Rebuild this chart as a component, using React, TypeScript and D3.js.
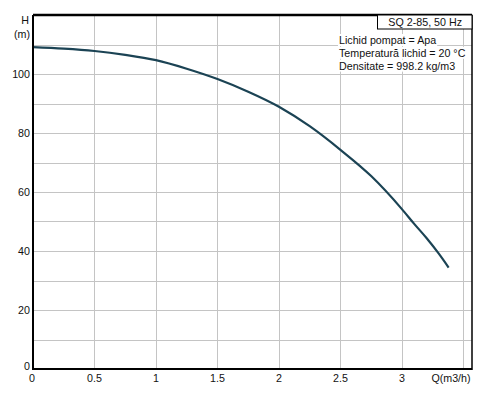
import React, { useEffect, useRef } from 'react';
import * as d3 from 'd3';

// pump curve
const flow = [0, 0.25, 0.5, 0.75, 1, 1.25, 1.5, 1.75, 2, 2.25, 2.5, 2.75, 3, 3.1, 3.2, 3.3, 3.38];
const head = [109.1, 108.6, 107.8, 106.5, 104.7, 101.8, 98.3, 94.0, 88.9, 82.3, 74.3, 65.4, 54.2, 49.2, 44.4, 39.1, 34.4];
const xTicks = [0, 0.5, 1, 1.5, 2, 2.5, 3];
const yTicks = [0, 20, 40, 60, 80, 100];
const infoLines = ['Lichid pompat = Apa', 'Temperatură lichid = 20 °C', 'Densitate = 998.2 kg/m3'];
const title = 'SQ 2-85, 50 Hz';

const W = 494;
const H = 396;
const margin = { top: 15, right: 22, bottom: 27, left: 33 };
const FONT = 'Liberation Sans, Arial, sans-serif';

const drawChart = (node: SVGSVGElement) => {
	const svg = d3.select(node);
	svg.selectAll('*').remove();
	const x = d3.scaleLinear().domain([0, 3.57]).range([margin.left, W - margin.right]);
	const y = d3.scaleLinear().domain([0, 120]).range([H - margin.bottom, margin.top]);
	const grid = svg.append('g').attr('stroke', '#c4c4c4').attr('stroke-width', 1);

	grid.selectAll('line.v').data(d3.range(0.5, 3.51, 0.5))
		.enter()
		.append('line')
		.attr('x1', (d) => Math.round(x(d)) + 0.5)
		.attr('x2', (d) => Math.round(x(d)) + 0.5)
		.attr('y1', y(0))
		.attr('y2', y(120));
	grid.selectAll('line.h').data(d3.range(10, 111, 10))
		.enter()
		.append('line')
		.attr('x1', x(0))
		.attr('x2', x(3.57))
		.attr('y1', (d) => Math.round(y(d)) + 0.5)
		.attr('y2', (d) => Math.round(y(d)) + 0.5);

	const pts = flow.map((q, i) => [q, head[i]] as [number, number]);
	svg.append('path').datum(pts)
		.attr('fill', 'none')
		.attr('stroke', '#1b4354')
		.attr('stroke-width', 2.2)
		.attr('d', d3.line<[number, number]>()
			.x((d) => x(d[0]))
			.y((d) => y(d[1]))
			.curve(d3.curveMonotoneX));

	const text = svg.append('g').attr('font-family', FONT).attr('font-size', 10.7).attr('fill', '#111');

	// info lines sit on white, hiding the grid behind them
	const info = text.selectAll('g.info').data(infoLines)
		.enter()
		.append('g');
	info.append('text')
		.attr('x', 339)
		.attr('y', (_d, i) => 44 + i * 12.8)
		.text((d) => d)
		.each(function () {
			const el = this as SVGTextElement;
			const b = el.getBBox();
			d3.select(el.parentNode as SVGGElement).insert('rect', 'text')
				.attr('x', b.x - 1).attr('y', b.y)
				.attr('width', b.width + 2).attr('height', b.height)
				.attr('fill', '#fff');
		});

	// frame
	const frame = svg.append('g').attr('stroke', '#000').attr('fill', 'none');
	frame.append('line').attr('x1', x(0)).attr('x2', x(3.57))
		.attr('y1', y(120)).attr('y2', y(120)).attr('stroke-width', 2.5);
	frame.append('line').attr('x1', x(0)).attr('x2', x(0))
		.attr('y1', y(120)).attr('y2', y(0) + 1).attr('stroke-width', 2);
	frame.append('line').attr('x1', x(0)).attr('x2', x(3.57))
		.attr('y1', y(0)).attr('y2', y(0)).attr('stroke-width', 2);
	frame.append('line').attr('x1', x(3.57)).attr('x2', x(3.57))
		.attr('y1', y(120)).attr('y2', y(0) + 1).attr('stroke-width', 1.5);
	frame.append('rect').attr('x', 377.5).attr('y', y(120))
		.attr('width', x(3.57) - 377.5).attr('height', 29 - y(120))
		.attr('fill', '#fff')
		.attr('stroke-width', 1);

	const labels = svg.append('g').attr('font-family', FONT).attr('font-size', 10.7).attr('fill', '#111');

	labels.selectAll('text.x').data(xTicks)
		.enter()
		.append('text')
		.attr('x', (d) => (d === 0 ? x(d) - 1 : x(d)))
		.attr('y', 382)
		.attr('text-anchor', 'middle')
		.text((d) => String(d));
	labels.selectAll('text.y').data(yTicks)
		.enter()
		.append('text')
		.attr('x', 30)
		.attr('y', (d) => (d === 0 ? y(d) + 1 : y(d) + 4))
		.attr('text-anchor', 'end')
		.text((d) => String(d));
	labels.append('text').attr('x', 451).attr('y', 382).attr('text-anchor', 'middle')
		.text('Q(m3/h)');
	labels.append('text').attr('x', 29).attr('y', 24).attr('text-anchor', 'end')
		.text('H');
	labels.append('text').attr('x', 30).attr('y', 38).attr('text-anchor', 'end')
		.text('(m)');
	labels.append('text').attr('x', 462).attr('y', 26).attr('text-anchor', 'end')
		.text(title);
};

const App = () => {
	const ref = useRef<SVGSVGElement>(null);

	useEffect(() => {
		if (ref.current) drawChart(ref.current);
	});

	return (
		<svg ref={ ref } width={ W } height={ H }
			style={{ position: 'absolute', left: 0, top: 0, background: '#fff' }}/>
	);
};

export default App;
